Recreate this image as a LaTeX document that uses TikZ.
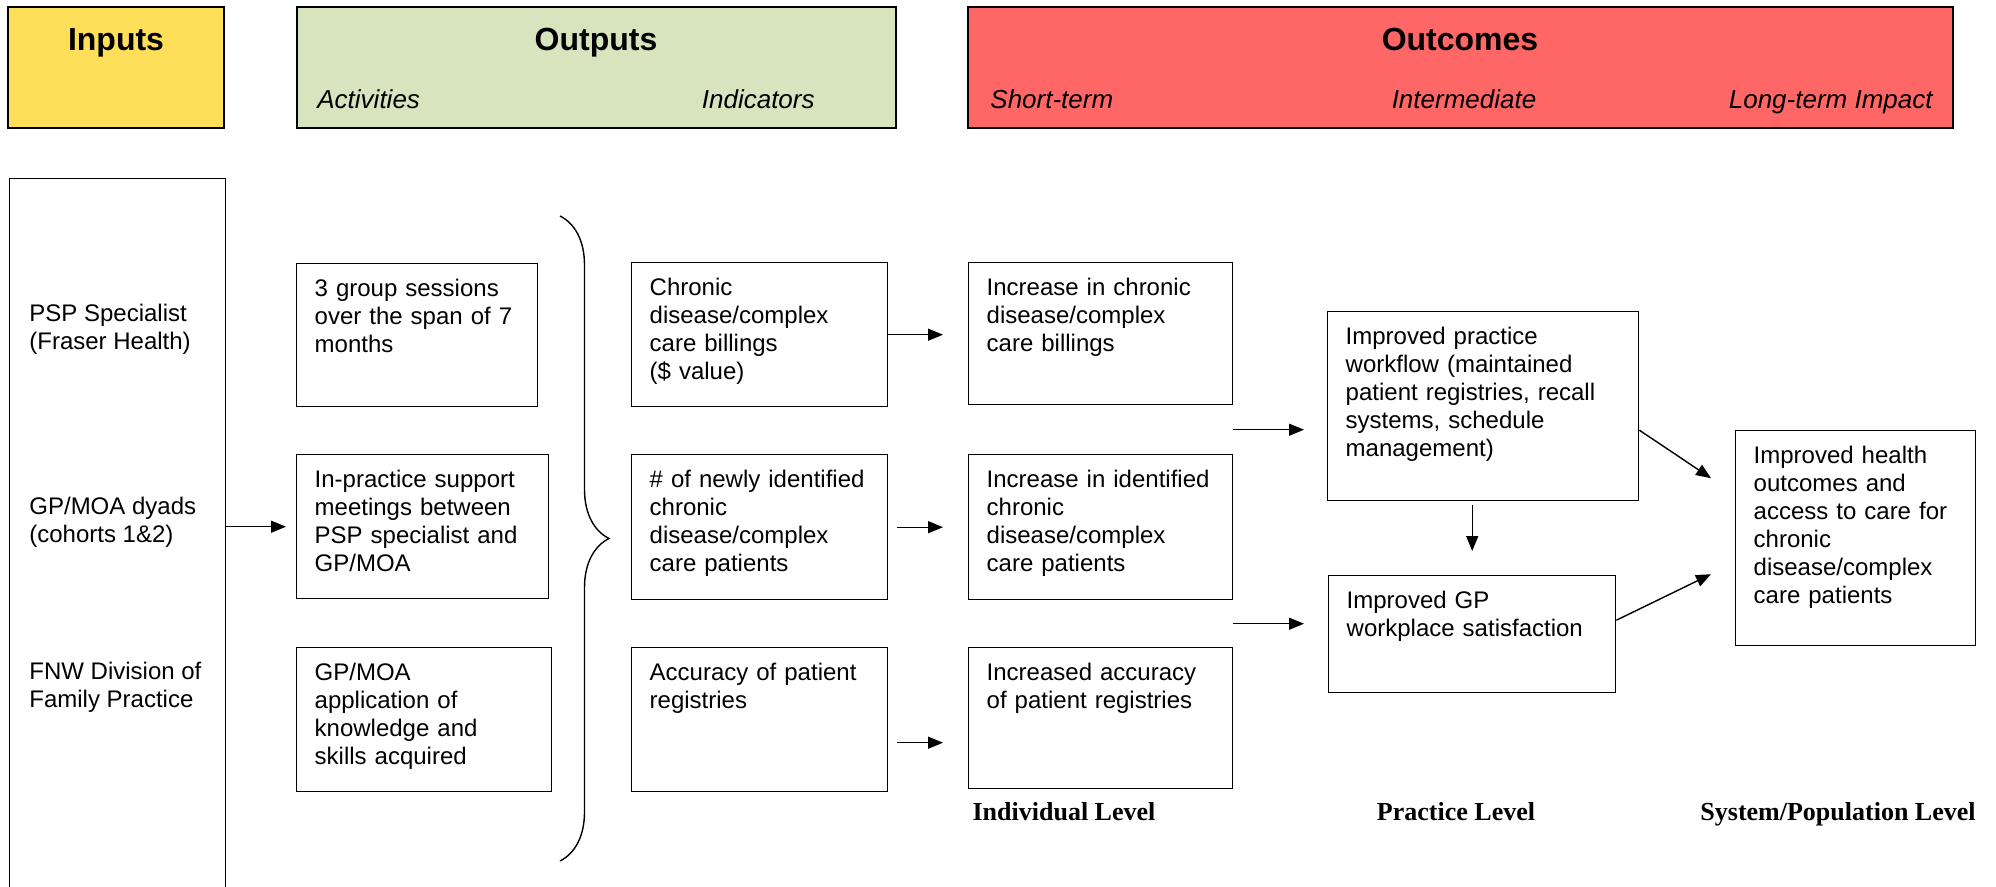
\documentclass[tikz,border=0pt]{standalone}
\usepackage{fontspec}
\setmainfont{Liberation Sans}
\newfontfamily\levelfont{Liberation Serif}
\usetikzlibrary{arrows.meta,calc,decorations.pathreplacing}

\definecolor{inyellow}{HTML}{FFDE59}
\definecolor{outgreen}{HTML}{D7E4BD}
\definecolor{outcred}{HTML}{FF6666}

\begin{document}
\begin{tikzpicture}[
  x=0.5pt, y=-0.5pt,
  font=\fontsize{12}{14}\selectfont,
  hdr/.style={draw, line width=0.8pt, minimum height=60.5pt},
  title/.style={font=\fontsize{16}{19}\selectfont\bfseries, anchor=base},
  sub/.style={font=\fontsize{13}{15}\selectfont\itshape, inner sep=0pt},
  box/.style 2 args={draw, line width=0.7pt, anchor=north west, align=left,
    inner xsep=9pt, inner ysep=0pt, text height=16.5pt,
    text width=#1, text depth=#2},
  who/.style={anchor=west, align=left, inner sep=0pt},
  level/.style={font=\fontsize{13}{15}\selectfont\levelfont\bfseries, anchor=base},
  arr/.style={-{Triangle[length=7.5pt,width=6pt]}, line width=0.7pt},
]
\path[use as bounding box] (0,0) rectangle (1996,887);
\clip (0,0) rectangle (1996,887);

% column headers
\node[hdr, fill=inyellow, minimum width=108pt] (inhdr) at (116,67.5) {};
\node[hdr, fill=outgreen, minimum width=299.5pt] (outhdr) at (596.5,67.5) {};
\node[hdr, fill=outcred, minimum width=492.5pt] (ochdr) at (1460.5,67.5) {};

\node[title] (intitle) at (116,51) {Inputs};
\node[title] (outtitle) at (596,51) {Outputs};
\node[title] (octitle) at (1460,51) {Outcomes};

\node[sub, anchor=base west] (actsub) at (317,109) {Activities};
\node[sub, anchor=base east] (indsub) at (815,109) {Indicators};
\node[sub, anchor=base west] (shortsub) at (990,109) {Short-term};
\node[sub, anchor=base] (midsub) at (1464,109) {Intermediate};
\node[sub, anchor=base east] (longsub) at (1933,109) {Long-term Impact};

% inputs
\node[draw, line width=0.7pt, anchor=north west, minimum width=108pt,
      minimum height=400pt] (inbox) at (9,178) {};
\node[who] (psp) at (29,329) {PSP Specialist\\(Fraser Health)};
\node[who] (gpmoa) at (29,522) {GP/MOA dyads\\(cohorts 1\&2)};
\node[who] (fnw) at (29,687) {FNW Division of\\Family Practice};

% activities
\node[box={102.5pt}{55pt}] (act1) at (296,263)
  {3 group sessions\\over the span of 7\\months};
\node[box={108pt}{55.5pt}] (act2) at (296,454)
  {In-practice support\\meetings between\\PSP specialist and\\GP/MOA};
\node[box={109.5pt}{55.5pt}] (act3) at (296,647)
  {GP/MOA\\application of\\knowledge and\\skills acquired};

\coordinate (bracetop) at (560,216);
\coordinate (bracebot) at (560,861);
\draw[line width=0.7pt, decorate, decoration={brace, amplitude=24.5pt}]
  (bracetop) -- (bracebot);

% indicators
\node[box={110pt}{55.5pt}] (ind1) at (631,262)
  {Chronic\\disease/complex\\care billings\\(\$ value)};
\node[box={110pt}{56pt}] (ind2) at (631,454)
  {\# of newly identified\\chronic\\disease/complex\\care patients};
\node[box={110pt}{55.5pt}] (ind3) at (631,647)
  {Accuracy of patient\\registries};

% short-term
\node[box={114pt}{54.5pt}] (st1) at (968,262)
  {Increase in chronic\\disease/complex\\care billings};
\node[box={114pt}{56pt}] (st2) at (968,454)
  {Increase in identified\\chronic\\disease/complex\\care patients};
\node[box={114pt}{54pt}] (st3) at (968,647)
  {Increased accuracy\\of patient registries};

% intermediate and long-term
\node[box={137.5pt}{78pt}] (pr1) at (1327,311)
  {Improved practice\\workflow (maintained\\patient registries, recall\\systems, schedule\\management)};
\node[box={125.5pt}{42pt}] (pr2) at (1328,575)
  {Improved GP\\workplace satisfaction};
\node[box={102pt}{91pt}] (sys) at (1735,430)
  {Improved health\\outcomes and\\access to care for\\chronic\\disease/complex\\care patients};

\node[level] (indiv) at (1064,820) {Individual Level};
\node[level] (pract) at (1456,820) {Practice Level};
\node[level] (syst) at (1838,820) {System/Population Level};

% connectors
\draw[arr, shorten >=5pt] (inbox.east |- act2) -- (act2);
\draw[arr, shorten >=12.5pt] (ind1.east) -- (ind1.east -| st1.west);
\draw[arr, shorten <=4.5pt, shorten >=12.5pt] (ind2.east) -- (ind2.east -| st2.west);
\draw[arr, shorten <=4.5pt, shorten >=12.5pt]
  ([yshift=-11.5pt]ind3.east) -- ([yshift=-11.5pt]ind3.east -| st3.west);

\coordinate (gapA) at ($(st1.south east)!0.5!(st2.north east)$);
\coordinate (gapB) at ($(st2.south east)!0.5!(st3.north east)$);
\draw[arr, shorten >=11.5pt] (gapA) -- (gapA -| pr1.west);
\draw[arr, shorten >=12pt] (gapB) -- (gapB -| pr2.west);

\draw[arr, shorten <=2pt, shorten >=12pt] (pr1.south -| pr2.north) -- (pr2.north);
\draw[arr] ([yshift=-12pt]pr1.east) -- ([xshift=-12pt,yshift=30pt]sys.west);
\draw[arr] ([yshift=7pt]pr2.east) -- ([xshift=-12pt,yshift=-18pt]sys.west);

\end{tikzpicture}
\end{document}
